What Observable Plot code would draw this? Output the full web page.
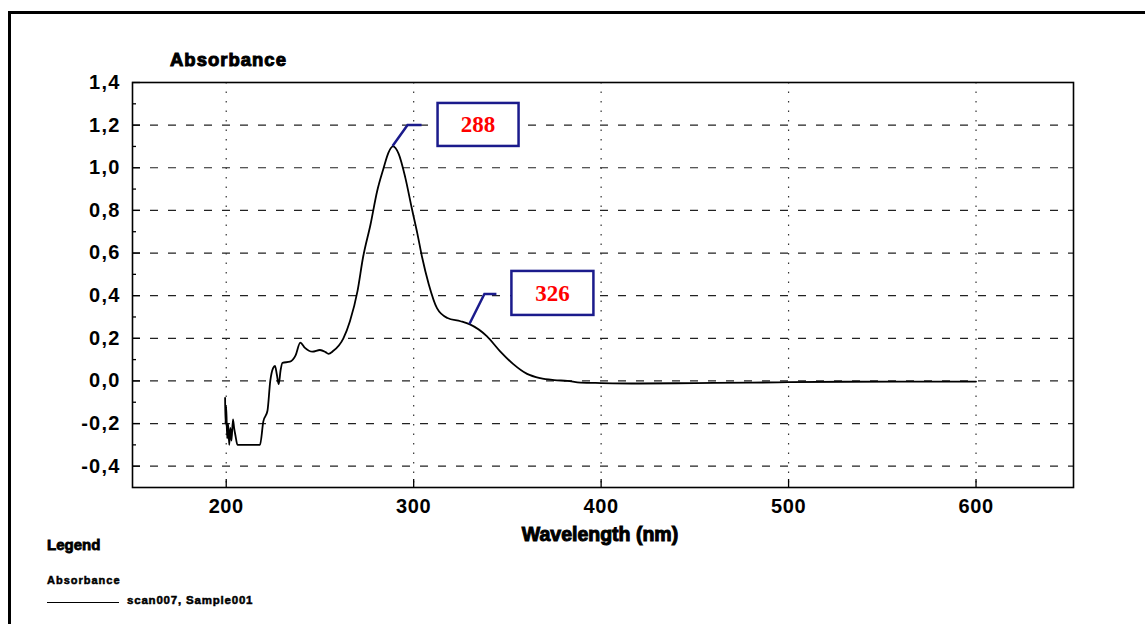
<!DOCTYPE html>
<html><head><meta charset="utf-8">
<script src="https://cdn.jsdelivr.net/npm/d3@7"></script>
<script src="https://cdn.jsdelivr.net/npm/@observablehq/plot@0.6"></script>
<style>
body{margin:0;background:#fff;font-family:"Liberation Sans",Arial,sans-serif;}
#wrap{position:relative;width:1145px;height:624px;overflow:hidden;background:#fff;}
#frame{position:absolute;left:8px;top:11px;width:1200px;height:700px;border-left:3px solid #000;border-top:3px solid #000;}
#chart{position:absolute;left:0;top:0;}
.t{position:absolute;font-weight:bold;color:#000;white-space:nowrap;line-height:1;-webkit-text-stroke:1px #000;}
#chart svg [aria-label="y-axis tick label"] text{letter-spacing:1.2px;}
#chart svg [aria-label="x-axis tick label"] text{letter-spacing:0.6px;}
</style></head><body>
<div id="wrap">
<div id="frame"></div>
<div id="chart"></div>
<div class="t" style="left:170px;top:51px;font-size:18.5px;letter-spacing:1px;">Absorbance</div>
<div class="t" style="left:600px;top:525px;font-size:19.5px;transform:translateX(-50%);">Wavelength (nm)</div>
<div class="t" style="left:47px;top:537px;font-size:15px;-webkit-text-stroke:0.8px #000;">Legend</div>
<div class="t" style="left:47px;top:575px;font-size:11px;letter-spacing:1px;-webkit-text-stroke:0.5px #000;">Absorbance</div>
<div style="position:absolute;left:47px;top:602px;width:72px;height:0;border-top:1.5px solid #000;"></div>
<div class="t" style="left:127px;top:594.5px;font-size:11.5px;letter-spacing:0.8px;-webkit-text-stroke:0.5px #000;">scan007, Sample001</div>
</div>
<script>
const wavelength = [199.4,199.6,200,200.5,201,201.6,202.2,202.8,203.6,204.2,205,206,212,218,219.8,222,223.5,225,226,227,228,229,230,234,237,239.5,242,246,250,253,254.5,257,262.5,266,270,273,277,280.5,284,286.5,289,292,295.5,299,302,304.5,308,312.5,318,325,330,339,346,353,360.5,367.5,375,382,389,400,420,450,480,500,530,560,600];
const absorbance = [-0.08,-0.2,-0.12,-0.27,-0.2,-0.3,-0.22,-0.28,-0.18,-0.22,-0.26,-0.3,-0.3,-0.3,-0.19,-0.14,0.0,0.06,0.07,0.03,-0.015,0.05,0.085,0.09,0.12,0.18,0.155,0.137,0.145,0.135,0.127,0.14,0.2,0.28,0.42,0.58,0.735,0.89,1.0,1.07,1.10,1.065,0.955,0.81,0.69,0.58,0.455,0.34,0.295,0.28,0.265,0.21,0.14,0.08,0.033,0.013,0.004,0.0,-0.008,-0.01,-0.012,-0.01,-0.008,-0.006,-0.004,-0.003,-0.003];
const xTicks = [200,300,400,500,600];
const yTicks = [-0.4,-0.2,0,0.2,0.4,0.6,0.8,1.0,1.2,1.4];
const yMinor = [-0.3,-0.1,0.1,0.3,0.5,0.7,0.9,1.1,1.3];
const peakLabels = ["288","326"];
const peakX = [289,330];
const peakY = [1.10,0.265];

const W = 1145, H = 624, mL = 132, mR = 72, mT = 82, mB = 137;
const plotW = W - mL - mR, plotH = H - mT - mB;
const data = wavelength.map((w,i)=>({w, a: absorbance[i]}));
// annotation layout (pixel offsets from the pointed-at peak)
const annot = [
  {elbow:[15,-21], end:29, box:[45,-43,81,43]},
  {elbow:[15,-30], end:27, box:[42,-53,82,44]}
];
const NAVY = "#1b1b8c";

function annotations(index, scales) {
  const g = d3.create("svg:g");
  peakLabels.forEach((lab,i)=>{
    const px = scales.x(peakX[i]), py = scales.y(peakY[i]);
    const a = annot[i];
    const ex = px + a.elbow[0], ey = py + a.elbow[1];
    g.append("path").attr("d",`M${px},${py}L${ex},${ey}L${px+a.end},${ey}`)
      .attr("fill","none").attr("stroke",NAVY).attr("stroke-width",2.5);
    g.append("rect").attr("x",px+a.box[0]).attr("y",py+a.box[1]).attr("width",a.box[2]).attr("height",a.box[3])
      .attr("fill","#fff").attr("stroke",NAVY).attr("stroke-width",2.5);
    g.append("text").attr("x",px+a.box[0]+a.box[2]/2).attr("y",py+a.box[1]+a.box[3]/2)
      .attr("dy","0.35em").attr("text-anchor","middle")
      .attr("font-family","'Liberation Serif','Times New Roman',serif").attr("font-weight","bold")
      .attr("font-size",23).attr("fill","#ff0000").text(lab);
  });
  return g.node();
}

const chart = Plot.plot({
  width: W, height: H,
  marginLeft: mL, marginRight: mR, marginTop: mT, marginBottom: mB,
  style: {background:"transparent", color:"#000", fontFamily:"'Liberation Sans',Arial,sans-serif"},
  x: {domain:[150,652]},
  y: {domain:[-0.5,1.4]},
  marks: [
    Plot.ruleY(yTicks.filter(v=>v<1.4), {stroke:"#222", strokeWidth:1.2, strokeDasharray:"8,10"}),
    Plot.ruleX(xTicks, {stroke:"#333", strokeWidth:1.2, strokeDasharray:"1.5,8"}),
    Plot.ruleY(yTicks, {stroke:"#000", strokeWidth:1.3, insetRight: plotW - 8}),
    Plot.ruleY(yMinor, {stroke:"#000", strokeWidth:1.3, insetRight: plotW - 4}),
    Plot.ruleX(xTicks, {stroke:"#000", strokeWidth:1.3, insetTop: plotH - 8}),
    Plot.frame({stroke:"#000", strokeWidth:1.6}),
    Plot.axisY(yTicks, {tickSize:0, tickPadding:12, fontSize:20, fontWeight:"bold", stroke:"#000", strokeWidth:0.9,
      tickFormat: d=>d.toFixed(1).replace(".",","), label:null}),
    Plot.axisX(xTicks, {tickSize:0, tickPadding:11, fontSize:20, fontWeight:"bold", stroke:"#000", strokeWidth:0.9,
      tickFormat: d=>String(d), label:null}),
    Plot.line(data, {x:"w", y:"a", stroke:"#000", strokeWidth:1.8, curve:"monotone-x"}),
    annotations
  ]
});
document.getElementById("chart").appendChild(chart);
</script>
</body></html>
